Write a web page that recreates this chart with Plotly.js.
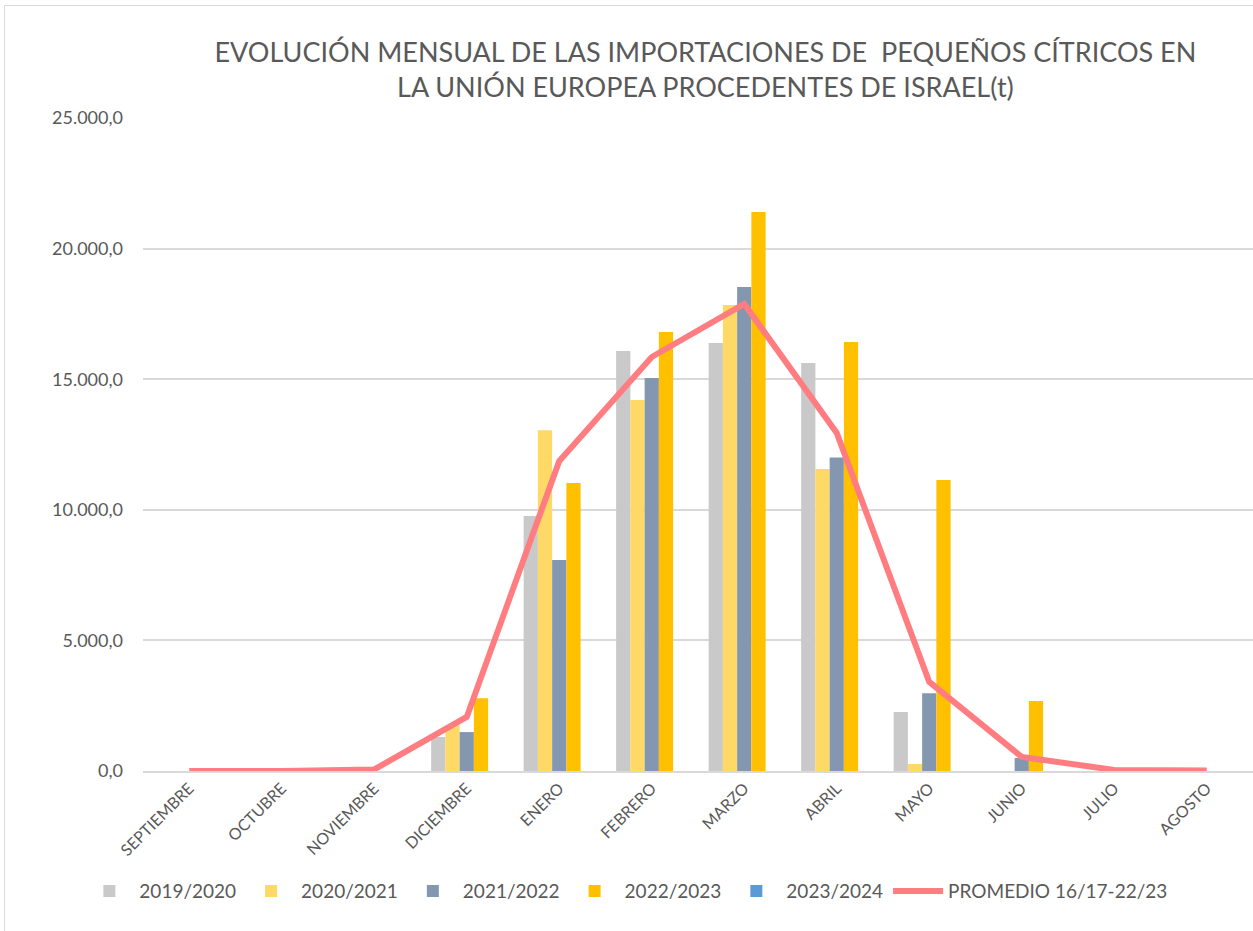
<!DOCTYPE html>
<html>
<head>
<meta charset="utf-8">
<script src="https://cdn.plot.ly/plotly-3.0.1.min.js"></script>
<style>
  body { margin: 0; background: #fff; }
  #chart { position: absolute; left: 0; top: 0; width: 1253px; height: 931px; }
  #frame { position: absolute; left: 4px; top: 5px; width: 1260px; height: 940px;
           border: 1px solid #d9d9d9; pointer-events: none; }
</style>
</head>
<body>
<div id="chart"></div>
<div id="frame"></div>
<script>
// Meses de la campaña
const meses = ['SEPTIEMBRE', 'OCTUBRE', 'NOVIEMBRE', 'DICIEMBRE', 'ENERO', 'FEBRERO',
               'MARZO', 'ABRIL', 'MAYO', 'JUNIO', 'JULIO', 'AGOSTO'];

// Importaciones por campaña (t)
const c2019 = [0, 0, 0, 1300, 9760, 16080, 16390, 15620, 2260, 0, 0, 0];
const c2020 = [0, 0, 0, 1760, 13050, 14200, 17840, 11560, 270, 0, 0, 0];
const c2021 = [0, 0, 0, 1490, 8080, 15050, 18530, 12000, 2980, 500, 0, 0];
const c2022 = [0, 0, 0, 2790, 11030, 16810, 21400, 16420, 11140, 2680, 0, 0];
const c2023 = [null, null, null, null, null, null, null, null, null, null, null, null];
const promedio = [0, 0, 60, 2070, 11870, 15850, 17880, 12940, 3410, 540, 40, 20];

const series = [
    { name: '2019/2020', y: c2019, color: '#C9C9C9' },
    { name: '2020/2021', y: c2020, color: '#FFD966' },
    { name: '2021/2022', y: c2021, color: '#8497B0' },
    { name: '2022/2023', y: c2022, color: '#FFC000' },
    { name: '2023/2024', y: c2023, color: '#5B9BD5' }
];

const data = series.map(s => ({
    x: meses,
    y: s.y,
    type: 'bar',
    name: s.name,
    marker: { color: s.color }
}));

data.push({
    x: meses,
    y: promedio,
    type: 'scatter',
    mode: 'lines',
    name: 'PROMEDIO 16/17-22/23',
    line: { color: '#FF7C80', width: 6 }
});

const layout = {
    width: 1253,
    height: 931,
    margin: { l: 143, r: 0, t: 118, b: 160 },
    paper_bgcolor: '#ffffff',
    plot_bgcolor: '#ffffff',
    separators: ',.',
    font: { family: 'Lato, "Open Sans", sans-serif', color: '#595959' },
    title: {
        text: 'EVOLUCIÓN MENSUAL DE LAS IMPORTACIONES DE  PEQUEÑOS CÍTRICOS EN<br>LA UNIÓN EUROPEA PROCEDENTES DE ISRAEL(t)',
        font: { size: 27, color: '#595959' },
        xref: 'container',
        x: 0.563,
        xanchor: 'center',
        yref: 'container',
        y: 0.933,
        yanchor: 'top'
    },
    barmode: 'group',
    bargap: 0.23,
    bargroupgap: 0,
    xaxis: {
        tickangle: -45,
        tickfont: { size: 16, color: '#595959' },
        showgrid: false,
        showline: true,
        linecolor: '#d9d9d9',
        linewidth: 1.5,
        ticks: ''
    },
    yaxis: {
        range: [0, 25000],
        dtick: 5000,
        tickformat: ',.1f',
        tickfont: { size: 18, color: '#595959' },
        gridcolor: '#d9d9d9',
        gridwidth: 1.5,
        zeroline: false,
        ticks: '',
        ticklabelstandoff: 19
    },
    legend: {
        orientation: 'h',
        x: 0.435,
        xanchor: 'center',
        y: -0.155,
        yanchor: 'top',
        font: { size: 19, color: '#595959' },
        itemwidth: 50
    },
    showlegend: true
};

Plotly.newPlot('chart', data, layout, { displayModeBar: false });
</script>
</body>
</html>
